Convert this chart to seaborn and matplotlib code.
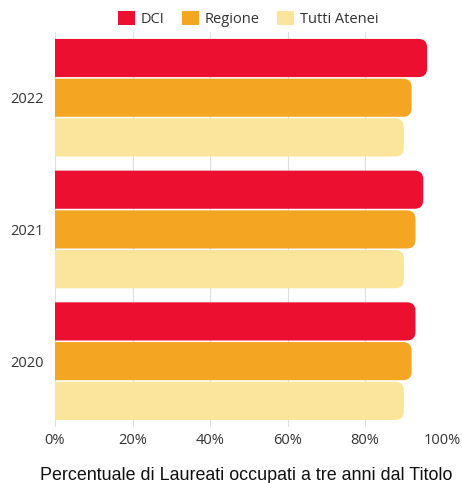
import pandas as pd
import seaborn as sns
import matplotlib
matplotlib.use("Agg")
import matplotlib.pyplot as plt
from matplotlib.patches import FancyBboxPatch, Patch

# Dati
ANNI = ["2022", "2021", "2020"]
SERIE = ["DCI", "Regione", "Tutti Atenei"]
DCI = [96, 95, 93]
REGIONE = [92, 93, 92]
TUTTI_ATENEI = [90, 90, 90]
COLORI = ["#EC0F2F", "#F4A623", "#FAE59A"]
TICKS = [0, 20, 40, 60, 80, 100]

rows = []
for serie, valori in zip(SERIE, [DCI, REGIONE, TUTTI_ATENEI]):
    for anno, v in zip(ANNI, valori):
        rows.append({"anno": anno, "serie": serie, "valore": v})
df = pd.DataFrame(rows)

sns.set_style("white")
plt.rcParams["font.family"] = ["Open Sans", "DejaVu Sans"]

fig = plt.figure(figsize=(4.62, 4.83), dpi=100)
ax = fig.add_axes([0.119, 0.116, 0.839, 0.818])

sns.barplot(data=df, x="valore", y="anno", hue="serie", order=ANNI,
            hue_order=SERIE, palette=COLORI, orient="h", width=0.905,
            gap=0.04, legend=False, saturation=1, ax=ax)

ax.set_xlim(0, 100)
ax.set_ylim(2.5, -0.5)

# angoli arrotondati a destra (il lato sinistro esce dall'asse e viene tagliato)
px_x = ax.get_window_extent().width / 100.0
px_y = ax.get_window_extent().height / 3.0
aspect = px_x / px_y
r = 2.2
for p in list(ax.patches):
    x0, y0 = p.get_x(), p.get_y()
    w, h = p.get_width(), p.get_height()
    col = p.get_facecolor()
    p.remove()
    fb = FancyBboxPatch((x0 - 5, y0), w + 5, h,
                        boxstyle=f"round,pad=0,rounding_size={r}",
                        mutation_aspect=aspect, facecolor=col,
                        edgecolor="none", zorder=3)
    ax.add_patch(fb)

ax.set_xticks(TICKS)
ax.set_xticklabels([f"{t}%" for t in TICKS], fontsize=10.5, color="#333333")
ax.tick_params(axis="y", labelsize=10.5, labelcolor="#333333", length=0, pad=8)
ax.tick_params(axis="x", length=0, pad=4)
ax.grid(axis="x", color="#DDDDDD", linewidth=0.8, zorder=0)
ax.set_axisbelow(True)
for s in ax.spines.values():
    s.set_visible(False)
ax.set_xlabel("")
ax.set_ylabel("")

fig.text(0.087, 0.006, "Percentuale di Laureati occupati a tre anni dal Titolo",
         family=["Liberation Sans", "DejaVu Sans"], fontsize=12.9, color="#111111",
         ha="left", va="baseline")

handles = [Patch(facecolor=c, edgecolor="none", label=s) for c, s in zip(COLORI, SERIE)]
fig.legend(handles=handles, loc="upper center", bbox_to_anchor=(0.537, 1.005),
           ncol=3, frameon=False, fontsize=10.5, handlelength=1.17,
           handleheight=1.17, handletextpad=0.4, columnspacing=1.2,
           labelcolor="#333333")

fig.savefig("out.png", dpi=100)
